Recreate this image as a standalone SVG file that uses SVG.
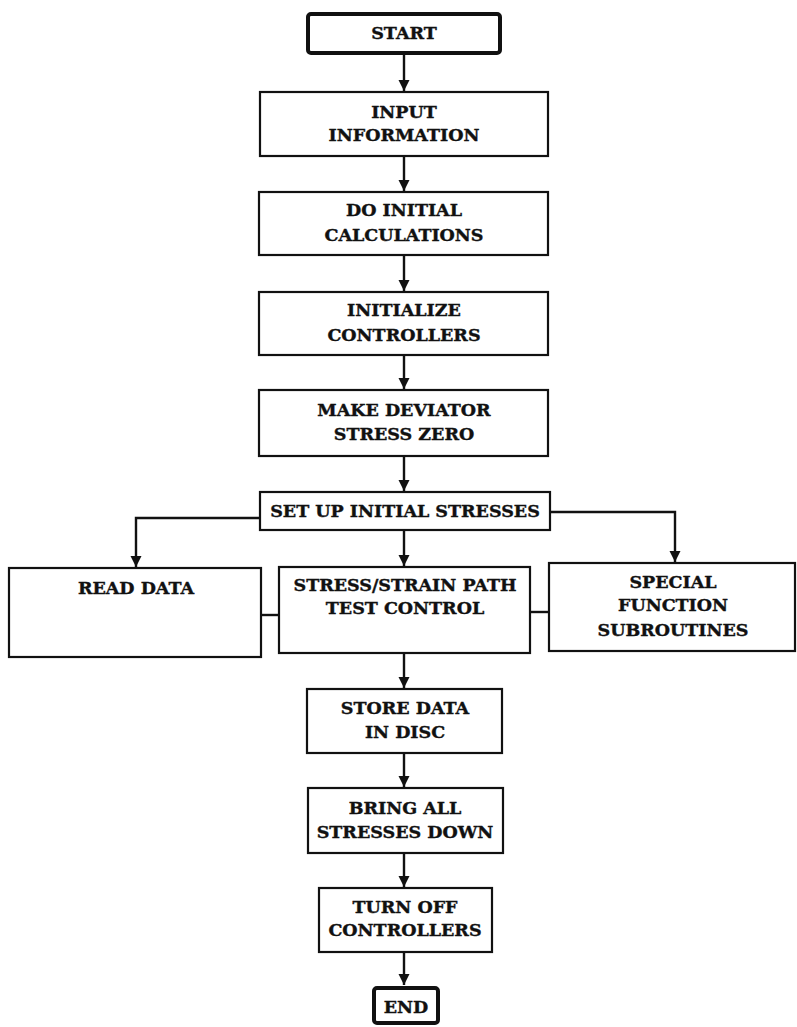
<svg xmlns="http://www.w3.org/2000/svg" width="797" height="1027" viewBox="0 0 797 1027">
<style>
.box{fill:#fff;stroke:#111;stroke-width:2.2}
.term{fill:#fff;stroke:#111;stroke-width:4}
.t{font-family:"DejaVu Serif","Liberation Serif",serif;font-weight:bold;font-size:17.5px;fill:#111;text-anchor:middle;stroke:#111;stroke-width:0.4}
.c{fill:none;stroke:#111;stroke-width:2.4}
</style>
<defs>
<marker id="ah" viewBox="0 0 11 14" refX="11" refY="7" markerWidth="11" markerHeight="14" markerUnits="userSpaceOnUse" orient="auto">
<path d="M0,1.5 L11,7 L0,12.5 Z" fill="#111"/>
</marker>
</defs>
<rect width="797" height="1027" fill="#fff"/>
<g id="connectors">
<line class="c" x1="404" y1="54" x2="404" y2="91" marker-end="url(#ah)"/>
<line class="c" x1="404" y1="156" x2="404" y2="191" marker-end="url(#ah)"/>
<line class="c" x1="404" y1="255" x2="404" y2="291" marker-end="url(#ah)"/>
<line class="c" x1="404" y1="355" x2="404" y2="389" marker-end="url(#ah)"/>
<line class="c" x1="404" y1="456" x2="404" y2="491" marker-end="url(#ah)"/>
<polyline class="c" points="260,518 136,518 136,567" marker-end="url(#ah)"/>
<line class="c" x1="404" y1="530" x2="404" y2="566" marker-end="url(#ah)"/>
<polyline class="c" points="550,512 675,512 675,562" marker-end="url(#ah)"/>
<line class="c" x1="261" y1="615" x2="279" y2="615"/>
<line class="c" x1="530" y1="612" x2="549" y2="612"/>
<line class="c" x1="404" y1="653" x2="404" y2="688" marker-end="url(#ah)"/>
<line class="c" x1="404" y1="753" x2="404" y2="787" marker-end="url(#ah)"/>
<line class="c" x1="404" y1="853" x2="404" y2="887" marker-end="url(#ah)"/>
<line class="c" x1="404" y1="952" x2="404" y2="985" marker-end="url(#ah)"/>
</g>
<g id="start"><rect class="term" x="308" y="14" width="192" height="39" rx="3"/><text class="t" x="404" y="39">START</text></g>
<g id="input"><rect class="box" x="260" y="92" width="288" height="64"/><text class="t" x="404" y="118">INPUT</text><text class="t" x="404" y="141">INFORMATION</text></g>
<g id="initcalc"><rect class="box" x="259" y="192" width="289" height="63"/><text class="t" x="404" y="216">DO INITIAL</text><text class="t" x="404" y="241">CALCULATIONS</text></g>
<g id="initctrl"><rect class="box" x="259" y="292" width="289" height="63"/><text class="t" x="404" y="316">INITIALIZE</text><text class="t" x="404" y="341">CONTROLLERS</text></g>
<g id="deviator"><rect class="box" x="259" y="390" width="289" height="66"/><text class="t" x="404" y="416">MAKE DEVIATOR</text><text class="t" x="404" y="440">STRESS ZERO</text></g>
<g id="setup"><rect class="box" x="260" y="492" width="290" height="38"/><text class="t" x="405" y="517">SET UP INITIAL STRESSES</text></g>
<g id="readdata"><rect class="box" x="9" y="568" width="252" height="89"/><text class="t" x="136" y="594">READ DATA</text></g>
<g id="testcontrol"><rect class="box" x="279" y="567" width="251" height="86"/><text class="t" x="405" y="591">STRESS/STRAIN PATH</text><text class="t" x="405" y="614">TEST CONTROL</text></g>
<g id="special"><rect class="box" x="549" y="563" width="246" height="88"/><text class="t" x="673" y="588">SPECIAL</text><text class="t" x="673" y="611">FUNCTION</text><text class="t" x="673" y="636">SUBROUTINES</text></g>
<g id="store"><rect class="box" x="307" y="689" width="195" height="64"/><text class="t" x="405" y="714">STORE DATA</text><text class="t" x="405" y="738">IN DISC</text></g>
<g id="bring"><rect class="box" x="308" y="788" width="195" height="65"/><text class="t" x="405" y="814">BRING ALL</text><text class="t" x="405" y="838">STRESSES DOWN</text></g>
<g id="turnoff"><rect class="box" x="319" y="888" width="173" height="64"/><text class="t" x="405" y="913">TURN OFF</text><text class="t" x="405" y="936">CONTROLLERS</text></g>
<g id="end"><rect class="term" x="374" y="988" width="64" height="35" rx="3"/><text class="t" x="406" y="1013">END</text></g>
</svg>
